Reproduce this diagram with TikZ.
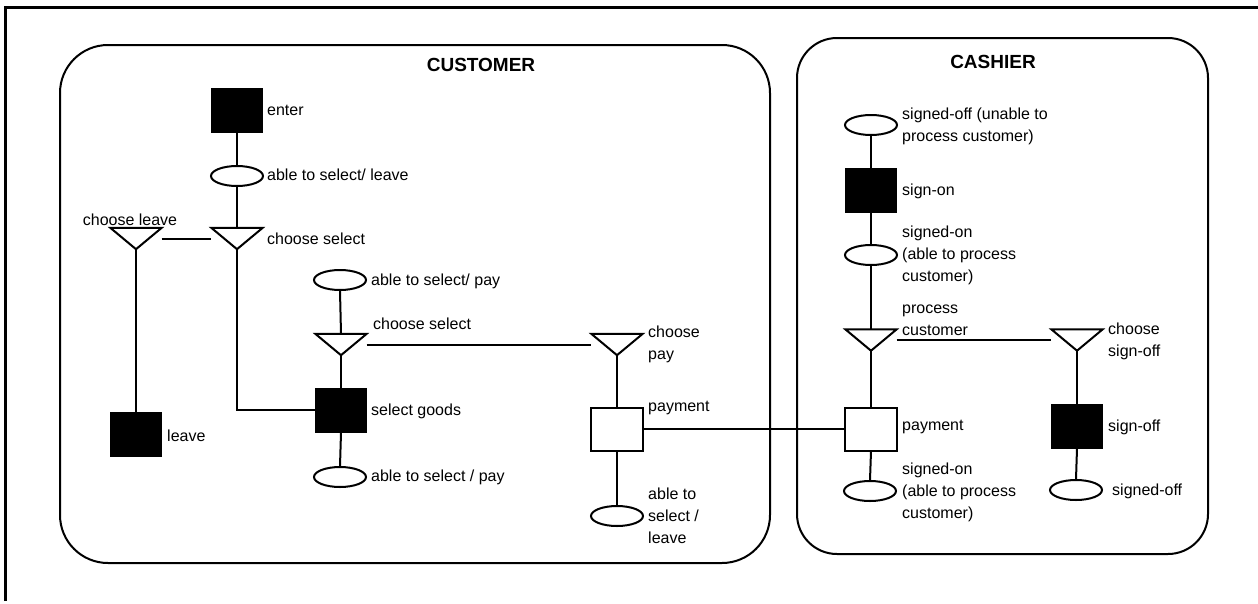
\documentclass[tikz,border=0pt]{standalone}
\usepackage{fontspec}
\setmainfont{Liberation Sans}
\usetikzlibrary{shapes.geometric}
\begin{document}
\begin{tikzpicture}[x=1pt,y=-1pt,
  ln/.style={line width=2pt},
  lab/.style={anchor=west, inner sep=0pt, font=\fontsize{16}{22}\selectfont, align=left},
  ttl/.style={font=\fontsize{19}{22}\selectfont\bfseries, inner sep=0pt},
  act/.style={draw, ln, fill=black, minimum width=50pt, minimum height=43pt, inner sep=0pt},
  paybox/.style={draw, ln, fill=white, minimum width=52pt, minimum height=43pt, inner sep=0pt},
  st/.style={draw, ln, ellipse, minimum width=52pt, minimum height=20pt, inner sep=0pt},
  ch/.style={minimum width=51pt, minimum height=21pt, inner sep=0pt}]
\fill[white] (0,0) rectangle (1258,603);
\useasboundingbox (0,0) rectangle (1258,603);
% outer frame
\draw[line width=3pt] (5,601) -- (5,7) -- (1258,7);
% swimlanes
\draw[ln, rounded corners=48pt] (60,45) rectangle (770,563);
\draw[ln, rounded corners=40pt] (797,38) rectangle (1208,554);
\node[ttl] (tcust) at (481,65) {CUSTOMER};
\node[ttl] (tcash) at (993,62) {CASHIER};

% ---------- CUSTOMER ----------
\node[act] (enter) at (237,110) {};
\node[st] (s1) at (237,176) {};
\node[ch] (cs) at (237,238.5) {};
\node[ch] (cl) at (136,238.5) {};
\node[act] (leave) at (136,434) {};
\node[st] (s2) at (340,280) {};
\node[ch] (cs2) at (341,344.5) {};
\node[act] (sg) at (341,410) {};
\node[st] (s3) at (340,477) {};
\node[ch] (cp) at (617,344.5) {};
\node[paybox] (pay1) at (617,429) {};
\node[st] (s4) at (617,516) {};

% ---------- CASHIER ----------
\node[st] (k1) at (871,125) {};
\node[act] (signon) at (871,190) {};
\node[st] (k2) at (871,255) {};
\node[ch] (pc) at (871,340) {};
\node[ch] (cso) at (1077,340) {};
\node[paybox] (pay2) at (871,429) {};
\node[act] (signoff) at (1077,426) {};
\node[st] (k3) at (870,491) {};
\node[st] (k4) at (1076,490) {};

% triangles
\foreach \t in {cs,cl,cs2,cp,pc,cso}
  \draw[ln, line join=miter] (\t.north west) -- (\t.north east) -- (\t.south) -- cycle;

% connectors customer
\draw[ln] (enter.south) -- (s1.north);
\draw[ln] (s1.south) -- (cs.north);
\draw[ln] (cl.east) -- (cs.west);
\draw[ln] (cl.south) -- (leave.north);
\draw[ln] (cs.south) |- (sg.west);
\draw[ln] (s2.south) -- (cs2.north);
\draw[ln] (cs2.south) -- (sg.north);
\draw[ln] (sg.south) -- (s3.north);
\draw[ln] (cs2.east) -- (cp.west);
\draw[ln] (cp.south) -- (pay1.north);
\draw[ln] (pay1.south) -- (s4.north);
\draw[ln] (pay1.east) -- (pay2.west);
% connectors cashier
\draw[ln] (k1.south) -- (signon.north);
\draw[ln] (signon.south) -- (k2.north);
\draw[ln] (k2.south) -- (pc.north);
\draw[ln] (pc.east) -- (cso.west);
\draw[ln] (pc.south) -- (pay2.north);
\draw[ln] (pay2.south) -- (k3.north);
\draw[ln] (cso.south) -- (signoff.north);
\draw[ln] (signoff.south) -- (k4.north);

% labels customer
\node[lab] (lenter) at (267,110) {enter};
\node[lab] (ls1) at (267,175) {able to select/ leave};
\node[lab] (lcs) at (267,239) {choose select};
\node[lab, anchor=center] (lcl) at (130,220) {choose leave};
\node[lab] (ls2) at (371,281) {able to select/ pay};
\node[lab] (lcs2) at (373,324) {choose select};
\node[lab] (lsg) at (371,411) {select goods};
\node[lab] (lleave) at (167,436) {leave};
\node[lab] (ls3) at (371,477) {able to select / pay};
\node[lab] (lcp) at (648,344) {choose\\pay};
\node[lab] (lpay1) at (648,408) {payment};
\node[lab] (ls4) at (648,516) {able to\\select /\\leave};
% labels cashier
\node[lab] (lk1) at (902,126) {signed-off (unable to\\process customer)};
\node[lab] (lsignon) at (902,191) {sign-on};
\node[lab] (lk2) at (902,255) {signed-on\\(able to process\\customer)};
\node[lab] (lpc) at (902,320) {process\\customer};
\node[lab] (lcso) at (1108,341) {choose\\sign-off};
\node[lab] (lpay2) at (902,427) {payment};
\node[lab] (lsignoff) at (1108,427) {sign-off};
\node[lab] (lk3) at (902,492) {signed-on\\(able to process\\customer)};
\node[lab] (lk4) at (1112,491) {signed-off};
\end{tikzpicture}
\end{document}
